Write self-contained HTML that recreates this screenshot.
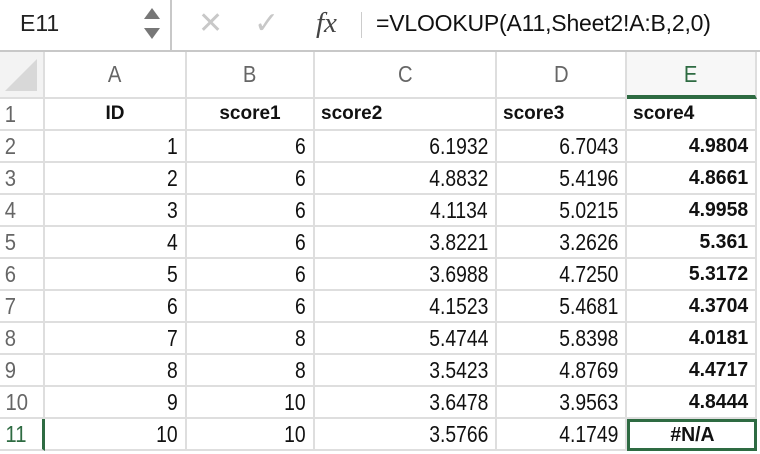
<!DOCTYPE html>
<html><head><meta charset="utf-8"><style>
body{margin:0;width:760px;height:454px;overflow:hidden;background:#fff;font-family:"Liberation Sans",sans-serif;position:relative}
.a{position:absolute}
.fb{left:0;top:0;width:760px;height:50px;border-bottom:2px solid #c8c8c8;background:#fff}
.cell{position:absolute;box-sizing:border-box;border-right:2px solid #dedede;border-bottom:2px solid #dedede;font-size:20px;line-height:30px;white-space:nowrap;overflow:hidden;color:#111}
.num{text-align:right;padding-right:7px;font-size:23px}
.num span{display:inline-block;transform:scaleX(0.84);transform-origin:right center}
.hdr{text-align:center;color:#666;font-size:23px}
.hdr span{display:inline-block;transform:scaleX(0.88)}
.b{font-weight:bold;font-size:19px}
.num.b{font-size:20px}
.num.b span{transform:scaleX(0.97)}
</style></head><body>
<div class="a fb">
  <div class="a" style="left:0;top:0;width:170px;height:50px;border-right:2px solid #c8c8c8">
    <span class="a" style="left:20px;top:10px;font-size:23px;color:#222">E11</span>
    <span class="a" style="left:144px;top:8px;width:0;height:0;border-left:8px solid transparent;border-right:8px solid transparent;border-bottom:11px solid #777"></span>
    <span class="a" style="left:144px;top:28px;width:0;height:0;border-left:8px solid transparent;border-right:8px solid transparent;border-top:11px solid #777"></span>
  </div>
  <span class="a" style="left:198px;top:6px;font-size:30px;color:#c8c8c8">✕</span>
  <span class="a" style="left:254px;top:6px;font-size:30px;color:#c8c8c8">✓</span>
  <span class="a" style="left:316px;top:7px;font-family:'Liberation Serif',serif;font-style:italic;font-size:29px;color:#444">fx</span>
  <span class="a" style="left:361px;top:12px;width:1px;height:26px;background:#ccc"></span>
  <span class="a" style="left:376px;top:10px;font-size:23px;color:#111;letter-spacing:-0.2px">=VLOOKUP(A11,Sheet2!A:B,2,0)</span>
</div>
<div id="grid"></div>
<script>
const cols=[["A",45,187],["B",187,315],["C",315,497],["D",497,627],["E",627,757]];
const headers=["ID","score1","score2","score3","score4"];
const ids=[1,2,3,4,5,6,7,8,9,10];
const score1=[6,6,6,6,6,6,8,8,10,10];
const score2=["6.1932","4.8832","4.1134","3.8221","3.6988","4.1523","5.4744","3.5423","3.6478","3.5766"];
const score3=["6.7043","5.4196","5.0215","3.2626","4.7250","5.4681","5.8398","4.8769","3.9563","4.1749"];
const score4=["4.9804","4.8661","4.9958","5.361","5.3172","4.3704","4.0181","4.4717","4.8444","#N/A"];
const g=document.getElementById('grid');
function mk(x,y,w,h,cls,txt,name,inter){const d=document.createElement('div');d.className='cell '+cls;d.style.left=x+'px';d.style.top=y+'px';d.style.width=w+'px';d.style.height=h+'px';
const s=document.createElement('span');s.textContent=txt;d.appendChild(s);


g.appendChild(d);return d;}
const c=mk(0,52,45,47,'','','select-all-corner','true');
c.style.background='#f3f3f3';
c.innerHTML='<div style="position:absolute;right:6px;bottom:6px;width:0;height:0;border-left:32px solid transparent;border-bottom:32px solid #d8d8d8"></div>';
cols.forEach(([l,x0,x1])=>{const d=mk(x0,52,x1-x0,47,'hdr',l,'column-header-'+l.toLowerCase(),'true');d.style.lineHeight='45px';if(l==='E'){d.style.color='#2e6b42';d.style.borderBottom='4px solid #2e6b42';d.style.background='#f7f7f7';}});
for(let r=0;r<11;r++){const y=99+r*32;const rh=mk(0,y,45,32,'hdr',String(r+1),'row-header-'+(r+1),'true');rh.style.textAlign='left';rh.style.paddingLeft='4px';
if(r===10){rh.style.color='#2e6b42';rh.style.borderRight='3px solid #2e6b42';}
cols.forEach(([l,x0,x1],ci)=>{let txt,cls;
if(r===0){txt=headers[ci];cls='b';}else{const i=r-1;txt=[ids[i],score1[i],score2[i],score3[i],score4[i]][ci];cls='num'+(ci===4?' b':'');}
const d=mk(x0,y,x1-x0,32,cls,String(txt),r===0?'header-'+headers[ci]:'cell-'+l.toLowerCase()+(r+1),'true');
if(r===0){d.style.textAlign=ci<2?'center':'left';d.style.paddingLeft=ci<2?'0':'6px';}
if(r===10&&ci===4){d.style.textAlign='center';d.style.padding='0';d.style.border='3px solid #2e6b42';d.style.lineHeight='26px';}
});}
</script>
</body></html>
